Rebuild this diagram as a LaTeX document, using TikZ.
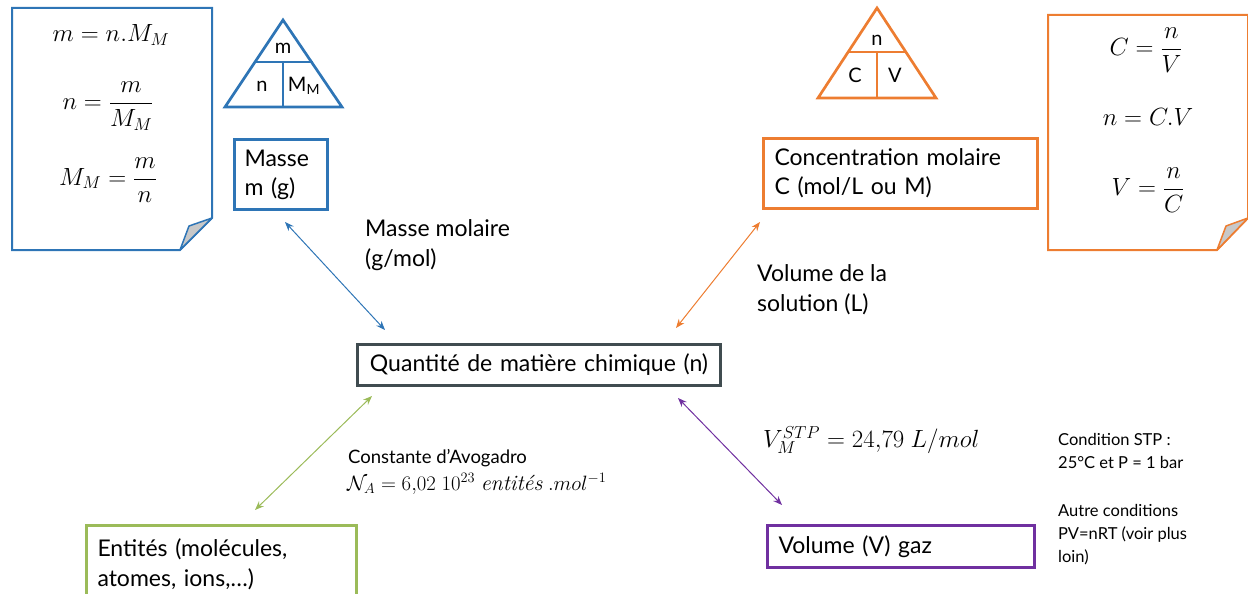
\documentclass[tikz,border=0pt]{standalone}
\usepackage{amsmath}
\usepackage{fontspec}
\setmainfont{Lato}
\newfontfamily\lmrfam{Latin Modern Roman}
\usetikzlibrary{arrows.meta}
\definecolor{cblue}{RGB}{46,117,182}
\definecolor{corange}{RGB}{237,125,49}
\definecolor{cgreen}{RGB}{155,187,89}
\definecolor{cpurple}{RGB}{112,48,160}
\definecolor{cslate}{RGB}{64,76,80}
\definecolor{cfold}{RGB}{200,200,200}
\tikzset{
  box/.style={draw, line width=3pt, align=left, inner xsep=10pt, inner ysep=0pt, anchor=north west, font=\fontsize{23}{29}\selectfont},
  note/.style={line width=2pt},
  tri/.style={line width=2.7pt, line join=miter},
  link/.style={line width=1pt, {Stealth[length=9pt,width=7pt]}-{Stealth[length=9pt,width=7pt]}},
  lbl/.style={align=left, anchor=north west, inner sep=0pt, font=\fontsize{23}{30}\selectfont},
  small/.style={align=left, anchor=north west, inner sep=0pt, font=\fontsize{16.5}{23}\selectfont},
  eq/.style={inner sep=0pt, font=\fontsize{25}{28}\selectfont},
  tl/.style={inner sep=0pt, font=\fontsize{20}{20}\selectfont}
}
\begin{document}
\begin{tikzpicture}[x=1pt,y=-1pt]
\useasboundingbox (0,0) rectangle (1248,594);
\clip (0,0) rectangle (1248,594);
% left note
\draw[note,draw=cblue,fill=white] (12,8) -- (212,8) -- (212,218) -- (180,250) -- (12,250) -- cycle;
\filldraw[draw=cblue, line width=1.5pt, fill=cfold, line join=round] (212,218) -- (189,226) -- (180,250) -- cycle;
\node[eq] (e1) at (111,35) {$m = n.M_M$};
\node[eq] (e2) at (108,106) {$n = \dfrac{m}{M_M}$};
\node[eq] (e3) at (108,180) {$M_M = \dfrac{m}{n}$};
% right note
\draw[note,draw=corange,fill=white] (1048,15) -- (1248,15) -- (1248,218) -- (1217,250) -- (1048,250) -- cycle;
\filldraw[draw=corange, line width=1.5pt, fill=cfold, line join=round] (1248,218) -- (1226,226) -- (1217,250) -- cycle;
\node[eq] (e4) at (1146,50) {$C = \dfrac{n}{V}$};
\node[eq] (e5) at (1148,117) {$n = C.V$};
\node[eq] (e6) at (1148,190) {$V = \dfrac{n}{C}$};
% blue triangle
\draw[tri,cblue] (283,20) -- (342,107) -- (225,107) -- cycle;
\draw[tri,cblue] (254,62) -- (313,62) (283,62) -- (283,107);
\node[tl] (tm) at (283,48) {m};
\node[tl] (tn) at (262,86) {n};
\node[tl] (tMM) at (304,86) {M\textsubscript{M}};
% orange triangle
\draw[tri,corange] (877,8) -- (936,98) -- (818,98) -- cycle;
\draw[tri,corange] (848,52) -- (906,52) (877,52) -- (877,98);
\node[tl] (tn2) at (877,40) {n};
\node[tl] (tC) at (855,75) {C};
\node[tl] (tV) at (895,75) {V};
% boxes
\node[box,cblue,text=black,minimum width=93pt,minimum height=70pt,text width=73pt] (masse) at (233,138) {Masse\\m (g)};
\node[box,corange,text=black,minimum width=274pt,minimum height=70pt,text width=252pt,inner xsep=11pt] (conc) at (762,137) {Concentration molaire\\C (mol/L ou M)};
\node[box,cslate,text=black,minimum width=363pt,minimum height=41pt,align=center,text width=343pt] (qty) at (356,343) {Quantité de matière chimique (n)};
\node[box,cgreen,text=black,minimum width=270pt,minimum height=78pt,text width=248pt,inner xsep=11pt,anchor=north west,font=\fontsize{23}{30}\selectfont] (ent) at (85,524) {Entités (molécules,\\atomes, ions,\dots)};
\node[box,cpurple,text=black,minimum width=267pt,minimum height=42pt,text width=245pt,inner xsep=11pt] (vol) at (766,524) {Volume (V) gaz};
% connector ends
\coordinate (a1) at (285,222); \coordinate (a2) at (385,330);
\coordinate (b1) at (760,222); \coordinate (b2) at (676,328);
\coordinate (c1) at (372,396); \coordinate (c2) at (255,510);
\coordinate (d1) at (678,398); \coordinate (d2) at (782,505);
\draw[link,cblue] (a1) -- (a2);
\draw[link,corange] (b1) -- (b2);
\draw[link,cgreen] (c1) -- (c2);
\draw[link,cpurple] (d1) -- (d2);
% labels
\node[lbl] (lmm) at (365,219) {Masse molaire\\(g/mol)};
\node[lbl] (lvs) at (757,264) {Volume de la\\solution (L)};
\node[small,font=\fontsize{18.5}{22}\selectfont] (lav) at (348,449) {Constante d'Avogadro};
\node[inner sep=0pt, anchor=north west, font=\fontsize{22}{24}\selectfont] (lavm) at (347,473) {$\mathcal{N}_A = 6{,}02\ 10^{23}\ \text{\lmrfam\itshape entités}\ .mol^{-1}$};
\node[inner sep=0pt, anchor=west, font=\fontsize{24}{26}\selectfont] (lvm) at (763,440) {$V_M^{STP} = 24{,}79\ L/mol$};
\node[small] (lstp) at (1058,433) {Condition STP :\\25°C et P = 1 bar\\[25pt]Autre conditions\\PV=nRT (voir plus\\loin)};
\end{tikzpicture}
\end{document}
